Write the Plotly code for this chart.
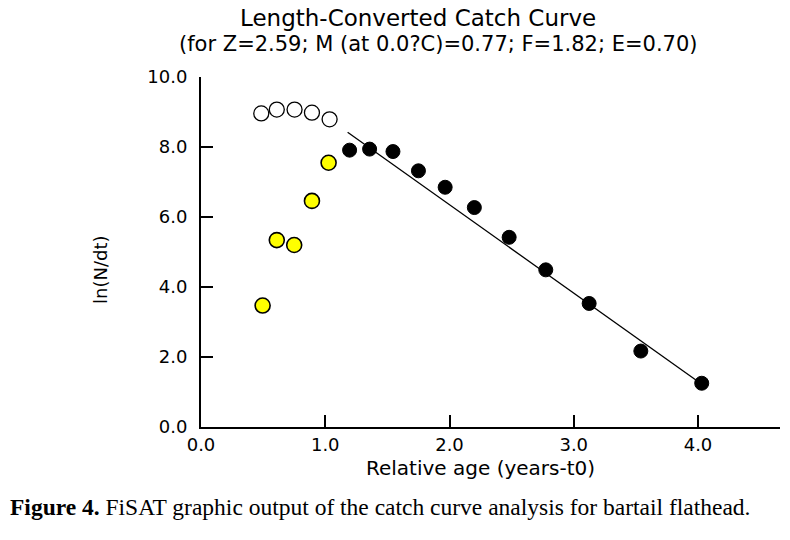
import plotly.graph_objects as go

# Data
open_x = [0.485, 0.61, 0.753, 0.893, 1.035]
open_y = [8.96, 9.07, 9.07, 8.98, 8.79]

yellow_x = [0.496, 0.61, 0.75, 0.893, 1.027]
yellow_y = [3.47, 5.34, 5.20, 6.46, 7.55]

black_x = [1.196, 1.357, 1.545, 1.75, 1.965, 2.20, 2.48, 2.775, 3.124, 3.54, 4.03]
black_y = [7.91, 7.94, 7.87, 7.32, 6.85, 6.27, 5.42, 4.49, 3.53, 2.17, 1.25]

line_x = [1.18, 4.0]
line_y = [8.42, 1.30]

x_ticks = [0, 1, 2, 3, 4]
x_tick_labels = ["0.0", "1.0", "2.0", "3.0", "4.0"]
y_ticks = [0, 2, 4, 6, 8, 10]
y_tick_labels = ["0.0", "2.0", "4.0", "6.0", "8.0", "10.0"]

title_text = "Length-Converted Catch Curve"
subtitle_text = "(for Z=2.59; M (at 0.0?C)=0.77; F=1.82; E=0.70)"
x_title = "Relative age (years-t0)"
y_title = "ln(N/dt)"
caption = "<b>Figure 4.</b> FiSAT graphic output of the catch curve analysis for bartail flathead."

SANS = "DejaVu Sans"

fig = go.Figure()
fig.add_trace(go.Scatter(x=line_x, y=line_y, mode="lines",
                         line=dict(color="black", width=1.3), showlegend=False))
fig.add_trace(go.Scatter(x=open_x, y=open_y, mode="markers",
                         marker=dict(size=15, color="white", line=dict(color="black", width=1.3)),
                         showlegend=False))
fig.add_trace(go.Scatter(x=yellow_x, y=yellow_y, mode="markers",
                         marker=dict(size=15, color="#ffff00", line=dict(color="black", width=1.6)),
                         showlegend=False))
fig.add_trace(go.Scatter(x=black_x, y=black_y, mode="markers",
                         marker=dict(size=14, color="black", line=dict(color="black", width=1)),
                         showlegend=False))

W, H = 790, 540
L, T = 201, 77
R = W - 780
B = H - 427
pw, ph = W - L - R, H - T - B

def px(x):
    return (x - L) / pw

def py(y):
    return (H - B - y) / ph

def note(text, x, y, size, family=SANS, xanchor="center", angle=0):
    return dict(text=text, x=px(x), y=py(y), xref="paper", yref="paper",
                xanchor=xanchor, yanchor="middle", showarrow=False, textangle=angle,
                font=dict(family=family, size=size, color="black"))

fig.update_layout(
    width=W, height=H,
    margin=dict(l=L, r=R, t=T, b=B),
    paper_bgcolor="white", plot_bgcolor="white",
    xaxis=dict(range=[0, 4.66], tickvals=x_ticks, ticktext=x_tick_labels,
               showgrid=False, zeroline=False, showline=True, linecolor="black", linewidth=2,
               ticks="inside", ticklen=12, tickwidth=1.5, tickcolor="black",
               tickfont=dict(family=SANS, size=18, color="black")),
    yaxis=dict(range=[0, 10], tickvals=y_ticks, ticktext=y_tick_labels,
               showgrid=False, zeroline=False, showline=True, linecolor="black", linewidth=2,
               ticks="inside", ticklen=12, tickwidth=1.5, tickcolor="black",
               ticklabelstandoff=8,
               tickfont=dict(family=SANS, size=18, color="black")),
    annotations=[
        note(title_text, 418, 18, 23),
        note(subtitle_text, 438, 44, 21),
        note(x_title, 480, 468, 20),
        note(y_title, 100, 270, 18, angle=-90),
        note(caption, 8, 507, 23.5, family="Liberation Serif", xanchor="left"),
    ],
)

fig.write_html("out.html",
               config={"displayModeBar": False},
               post_script="document.body.style.margin='0';document.body.style.overflow='hidden';")
